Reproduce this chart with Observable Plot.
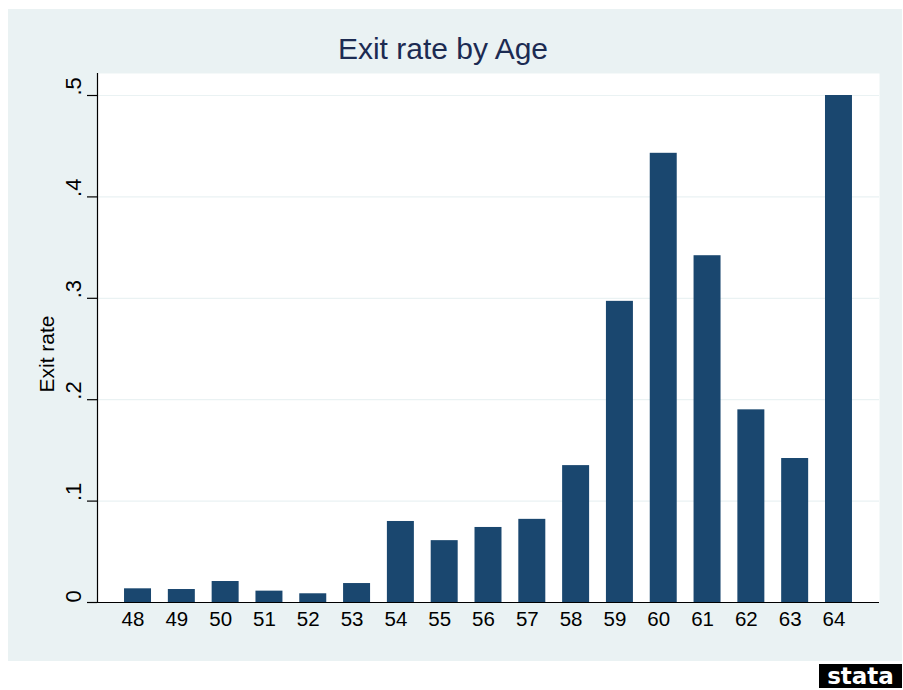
<!DOCTYPE html>
<html>
<head>
<meta charset="utf-8">
<script src="https://cdn.jsdelivr.net/npm/d3@7"></script>
<script src="https://cdn.jsdelivr.net/npm/@observablehq/plot@0.6"></script>
<style>
  html, body { margin: 0; padding: 0; background: #ffffff; }
  #wrap { position: relative; width: 903px; height: 690px; font-family: "Liberation Sans", Arial, sans-serif; overflow: hidden; }
  #bg { position: absolute; left: 8px; top: 9px; width: 894px; height: 652px; background: #EAF2F3; }
  #chart { position: absolute; left: 0; top: 0; }
  #title { position: absolute; left: 443px; top: 34px; transform: translateX(-50%); font-size: 30px; line-height: 1; color: #1c2b52; white-space: nowrap; }
  #ylab { position: absolute; left: 46px; top: 354px; transform: translate(-50%, -50%) rotate(-90deg); font-size: 21px; line-height: 1; color: #000; white-space: nowrap; }
  #logo { position: absolute; left: 819px; top: 664px; width: 83px; height: 24px; background: #000; color: #fff; font-weight: bold; font-size: 23px; line-height: 24px; text-align: center; letter-spacing: 0px; font-family: "DejaVu Sans", sans-serif; }
</style>
</head>
<body>
<div id="wrap">
  <div id="bg"></div>
  <div id="chart"></div>
  <div id="title">Exit rate by Age</div>
  <div id="ylab">Exit rate</div>
  <div id="logo">stata</div>
</div>
<script>
const ages = [48, 49, 50, 51, 52, 53, 54, 55, 56, 57, 58, 59, 60, 61, 62, 63, 64];
const rates = [0.0135, 0.0128, 0.0207, 0.0112, 0.0086, 0.0187, 0.0799, 0.061, 0.074, 0.082, 0.135, 0.297, 0.443, 0.342, 0.190, 0.142, 0.500];
const yTicks = [0, 0.1, 0.2, 0.3, 0.4, 0.5];
const yTickLabels = ["0", ".1", ".2", ".3", ".4", ".5"];

const data = ages.map((a, i) => ({age: a, rate: rates[i]}));
const tickData = yTicks.map((v, i) => ({v, label: yTickLabels[i]}));

const barColor = "#1a476f";
const gridColor = "#EAF2F3";

const chart = Plot.plot({
  width: 903,
  height: 690,
  marginLeft: 97,
  marginRight: 24,
  marginTop: 73,
  marginBottom: 88,
  style: {background: "transparent", fontFamily: "'Liberation Sans', Arial, sans-serif", overflow: "visible"},
  x: {type: "band", domain: ages, paddingInner: 0.384, paddingOuter: 0.617, round: false, axis: null},
  y: {domain: [0, 0.5217], axis: null},
  marks: [
    Plot.frame({fill: "white", stroke: null}),
    Plot.gridY(yTicks.filter(d => d > 0), {stroke: gridColor, strokeOpacity: 1, strokeWidth: 1.2}),
    Plot.barY(data, {x: "age", y: "rate", fill: barColor}),
    Plot.ruleY([0], {stroke: "black", strokeWidth: 1.2}),
    Plot.frame({anchor: "left", stroke: "black", strokeWidth: 1.2}),
    Plot.axisY({ticks: yTicks, tickSize: 10, tickFormat: () => "", stroke: "black", strokeWidth: 1.2}),
    Plot.text(tickData, {y: "v", text: "label", frameAnchor: "left", dx: -24, rotate: -90, fontSize: 22, fill: "black"}),
    Plot.text(data, {x: "age", text: d => String(d.age), frameAnchor: "bottom", dy: 23, dx: -5, fontSize: 20.5, fill: "black"})
  ]
});
document.getElementById("chart").appendChild(chart);
</script>
</body>
</html>
